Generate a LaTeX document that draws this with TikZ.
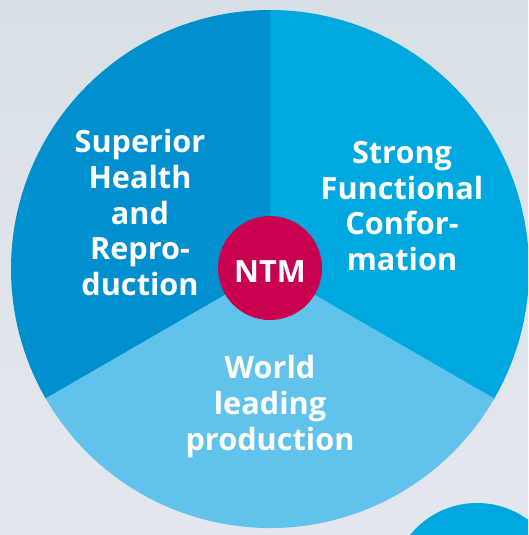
\documentclass[tikz,border=0pt]{standalone}
\usepackage{fontspec}
\setmainfont{Open Sans}
\usetikzlibrary{shapes.geometric}
\definecolor{bgA}{HTML}{D8E0E6}
\definecolor{bgB}{HTML}{E4E8EE}
\definecolor{secL}{HTML}{0090D0}
\definecolor{secR}{HTML}{00A8E0}
\definecolor{secB}{HTML}{61C3EC}
\definecolor{ntmc}{HTML}{C8004F}
\tikzset{
  lbl/.style={text=white, align=center, inner sep=0pt,
    font=\bfseries\fontsize{23}{26.8}\selectfont},
}
\begin{document}
\begin{tikzpicture}[x=0.75pt,y=0.75pt]
\useasboundingbox (0,0) rectangle (528,-535);
\clip (0,0) rectangle (528,-535);
\shade[top color=bgA, bottom color=bgB] (0,0) rectangle (528,-535);
\coordinate (C) at (270,-269);
\fill[secL] (C) -- ++(90:194.25pt) arc[start angle=90,end angle=210,radius=194.25pt] -- cycle;
\fill[secB] (C) -- ++(210:194.25pt) arc[start angle=210,end angle=330,radius=194.25pt] -- cycle;
\fill[secR] (C) -- ++(330:194.25pt) arc[start angle=330,end angle=450,radius=194.25pt] -- cycle;
\fill[secR] (477,-589) circle[radius=64.5pt];
\node[circle, fill=ntmc, minimum size=78pt, inner sep=0pt, lbl, text height=21.6pt, text depth=0pt] (ntm) at (270,-268) {NTM};
\node[lbl, anchor=north] (health) at (140,-129) {Superior\\Health\\and\\Repro-\\duction};
\node[lbl, anchor=north] (conf) at (402,-141) {Strong\\Functional\\Confor-\\mation};
\node[lbl, anchor=north] (prod) at (270,-355) {World\\leading\\production};
\end{tikzpicture}
\end{document}
